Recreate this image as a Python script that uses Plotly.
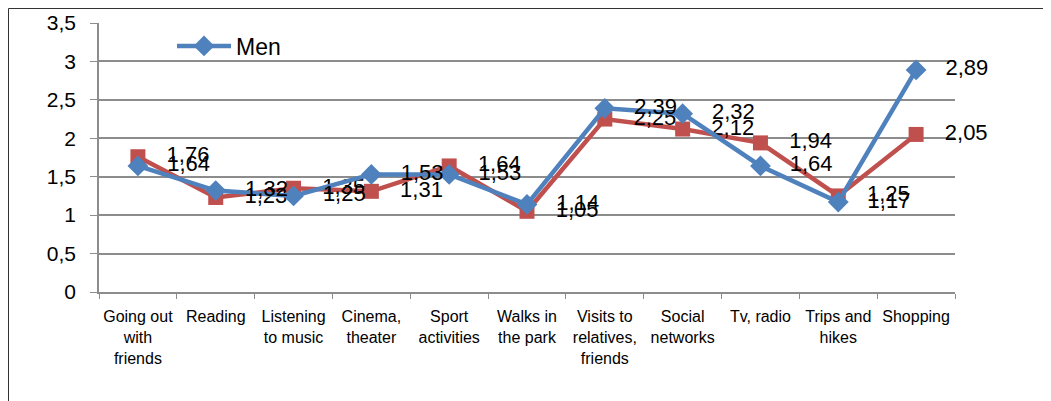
import plotly.graph_objects as go

categories = ['Going out<br>with<br>friends', 'Reading', 'Listening<br>to music', 'Cinema,<br>theater',
              'Sport<br>activities', 'Walks in<br>the park', 'Visits to<br>relatives,<br>friends',
              'Social<br>networks', 'Tv, radio', 'Trips and<br>hikes', 'Shopping']
men = [1.64, 1.32, 1.25, 1.53, 1.53, 1.14, 2.39, 2.32, 1.64, 1.17, 2.89]
women = [1.76, 1.23, 1.35, 1.31, 1.64, 1.05, 2.25, 2.12, 1.94, 1.25, 2.05]
y_ticks = [0, 0.5, 1, 1.5, 2, 2.5, 3, 3.5]

# page has an 8px body margin, so the figure starts at (8, 8)
W, H = 1043, 393
L, R, T, B = 91, 96, 15, 109
pw, ph = W - L - R, H - T - B


def lab(vals):
    return ['   ' + f'{v:.2f}'.replace('.', ',') for v in vals]


fig = go.Figure()
fig.add_trace(go.Scatter(
    x=categories, y=women, name='Women', mode='lines+markers+text',
    line=dict(color='#C0504D', width=4.5),
    marker=dict(symbol='square', size=15, color='#C0504D'),
    text=lab(women), textposition='middle right', cliponaxis=False,
    textfont=dict(size=22, color='black', family='Liberation Sans'),
    showlegend=False,
))
fig.add_trace(go.Scatter(
    x=categories, y=men, name='Men', mode='lines+markers+text',
    line=dict(color='#4F81BD', width=4.5),
    marker=dict(symbol='diamond', size=16, color='#4F81BD'),
    text=lab(men), textposition='middle right', cliponaxis=False,
    textfont=dict(size=22, color='black', family='Liberation Sans'),
))


def px_x(p):
    return (p - L) / pw


def px_y(p):
    return (H - B - p) / ph


# chart frame (top and left edges)
fig.add_shape(type='line', xref='paper', yref='paper', x0=px_x(0.5), x1=px_x(W),
              y0=px_y(0.5), y1=px_y(0.5), line=dict(color='#333333', width=1))
fig.add_shape(type='line', xref='paper', yref='paper', x0=px_x(0.5), x1=px_x(0.5),
              y0=px_y(0.5), y1=px_y(H), line=dict(color='#333333', width=1))

fig.update_layout(
    width=W, height=H, autosize=False,
    margin=dict(l=L, r=R, t=T, b=B),
    plot_bgcolor='white', paper_bgcolor='white',
    separators=', ',
    font=dict(family='Liberation Sans', color='black'),
    legend=dict(x=px_x(164), y=px_y(38), xanchor='left', yanchor='middle',
                font=dict(size=23), bgcolor='rgba(0,0,0,0)', itemwidth=54),
)
fig.update_xaxes(
    type='category', tickson='boundaries', ticks='outside', ticklen=5,
    tickcolor='#8c8c8c', showline=True, linecolor='#8c8c8c', linewidth=1.5,
    showgrid=False, tickfont=dict(size=16), tickangle=0, ticklabelstandoff=9,
    range=[-0.5, 10.5], automargin=False,
)
fig.update_yaxes(
    range=[0, 3.5], tickvals=y_ticks, ticks='outside', ticklen=7,
    tickcolor='#8c8c8c', showline=True, linecolor='#8c8c8c', linewidth=1.5,
    showgrid=True, gridcolor='#8c8c8c', gridwidth=1.5, zeroline=False,
    tickfont=dict(size=21), ticklabelstandoff=10, automargin=False,
)

fig.write_html('out.html')
